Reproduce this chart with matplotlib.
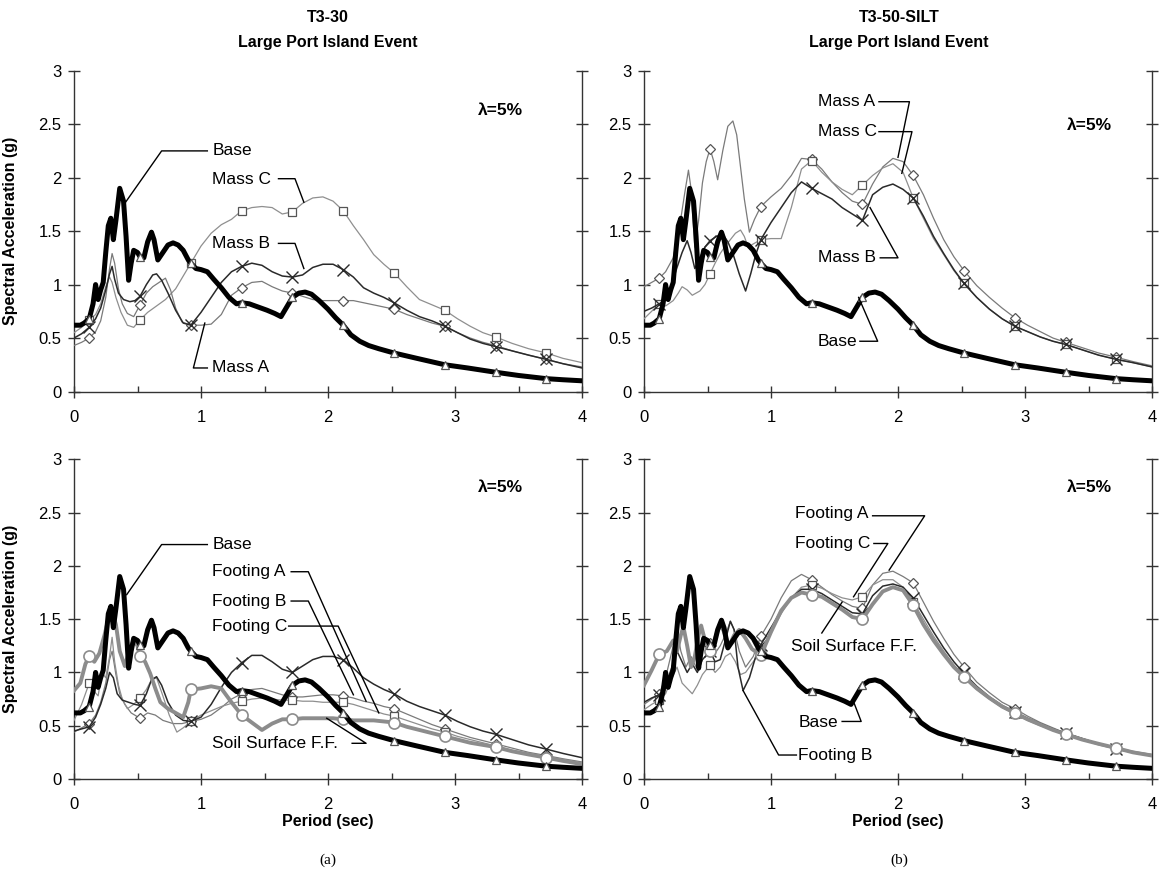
import numpy as np
import matplotlib
matplotlib.use('Agg')
import matplotlib.pyplot as plt
from matplotlib.ticker import MultipleLocator

plt.rcParams['font.family'] = ['Liberation Sans', 'DejaVu Sans']

# marker periods (every 0.4 s)
marker_x = [0.12, 0.52, 0.92, 1.32, 1.72, 2.12, 2.52, 2.92, 3.32, 3.72]

# Base motion (same in all panels)
base_x = [0.00, 0.05, 0.08, 0.12, 0.15, 0.17, 0.19, 0.21, 0.23, 0.25, 0.27, 0.29, 0.31, 0.33,
          0.36, 0.39, 0.41, 0.43, 0.45, 0.47, 0.50, 0.52, 0.55, 0.58, 0.61, 0.63, 0.66, 0.70,
          0.74, 0.78, 0.82, 0.86, 0.90, 0.92, 0.96, 1.00, 1.05, 1.10, 1.16, 1.22, 1.28, 1.32,
          1.38, 1.45, 1.52, 1.58, 1.63, 1.68, 1.72, 1.77, 1.82, 1.87, 1.93, 2.00, 2.06, 2.12,
          2.18, 2.25, 2.32, 2.40, 2.52, 2.70, 2.92, 3.10, 3.32, 3.50, 3.72, 3.85, 4.00]
base_y = [0.62, 0.62, 0.64, 0.68, 0.82, 1.00, 0.86, 0.95, 1.02, 1.30, 1.55, 1.62, 1.42, 1.60,
          1.90, 1.78, 1.45, 1.04, 1.20, 1.32, 1.30, 1.26, 1.25, 1.40, 1.49, 1.42, 1.23, 1.30,
          1.37, 1.39, 1.37, 1.32, 1.23, 1.20, 1.15, 1.14, 1.12, 1.05, 0.97, 0.88, 0.82, 0.83,
          0.82, 0.79, 0.76, 0.73, 0.70, 0.80, 0.88, 0.92, 0.93, 0.91, 0.85, 0.77, 0.69, 0.62,
          0.53, 0.47, 0.43, 0.40, 0.36, 0.31, 0.25, 0.22, 0.18, 0.15, 0.12, 0.11, 0.10]

# common grid for the long-period tails
tail_x = [1.00, 1.08, 1.16, 1.24, 1.32, 1.40, 1.48, 1.56, 1.64, 1.72, 1.80, 1.88, 1.96, 2.04,
          2.12, 2.20, 2.28, 2.36, 2.44, 2.52, 2.62, 2.72, 2.82, 2.92, 3.02, 3.12, 3.22, 3.32,
          3.45, 3.58, 3.72, 3.85, 4.00]

# ---- T3-30, masses ----
a_massC_x = [0.00, 0.06, 0.12, 0.17, 0.21, 0.25, 0.28, 0.30, 0.33, 0.37, 0.42, 0.47, 0.52, 0.58,
             0.65, 0.72, 0.80, 0.86, 0.92] + tail_x
a_massC_y = [0.55, 0.60, 0.67, 0.72, 0.82, 0.98, 1.07, 1.02, 0.88, 0.74, 0.62, 0.60, 0.67, 0.74,
             0.80, 0.86, 0.96, 1.08, 1.20,
             1.36, 1.48, 1.56, 1.61, 1.69, 1.72, 1.73, 1.72, 1.66, 1.68, 1.76, 1.81, 1.82, 1.78,
             1.69, 1.55, 1.42, 1.28, 1.19, 1.11, 0.98, 0.86, 0.81, 0.76, 0.68, 0.61, 0.55, 0.51,
             0.45, 0.40, 0.36, 0.31, 0.27]
a_massB_x = [0.00, 0.06, 0.12, 0.17, 0.21, 0.25, 0.28, 0.30, 0.32, 0.35, 0.39, 0.44, 0.48, 0.52,
             0.57, 0.62, 0.65, 0.69, 0.74, 0.80, 0.86, 0.92] + tail_x
a_massB_y = [0.50, 0.54, 0.60, 0.68, 0.78, 0.95, 1.10, 1.17, 1.05, 0.92, 0.86, 0.84, 0.85, 0.89,
             1.00, 1.09, 1.10, 1.04, 0.92, 0.76, 0.64, 0.62,
             0.74, 0.88, 1.02, 1.12, 1.17, 1.20, 1.18, 1.12, 1.08, 1.07, 1.09, 1.16, 1.19, 1.19,
             1.14, 1.07, 0.97, 0.92, 0.88, 0.83, 0.76, 0.70, 0.66, 0.61, 0.55, 0.49, 0.45, 0.42,
             0.38, 0.34, 0.30, 0.26, 0.22]
a_massA_x = [0.00, 0.06, 0.12, 0.17, 0.21, 0.25, 0.28, 0.30, 0.32, 0.35, 0.38, 0.42, 0.47, 0.52,
             0.57, 0.62, 0.67, 0.72, 0.76, 0.80, 0.85, 0.92] + tail_x
a_massA_y = [0.43, 0.46, 0.50, 0.56, 0.66, 0.88, 1.15, 1.29, 1.20, 0.96, 0.82, 0.73, 0.70, 0.81,
             0.92, 0.98, 1.02, 1.06, 0.95, 0.78, 0.65, 0.62,
             0.62, 0.63, 0.72, 0.90, 0.97, 1.02, 1.03, 0.98, 0.94, 0.92, 0.89, 0.86, 0.85, 0.85,
             0.85, 0.85, 0.83, 0.81, 0.79, 0.77, 0.72, 0.68, 0.64, 0.61, 0.55, 0.50, 0.46, 0.43,
             0.38, 0.34, 0.30, 0.26, 0.23]

# ---- T3-50-SILT, masses ----
b_massA_x = [0.00, 0.06, 0.12, 0.17, 0.23, 0.28, 0.32, 0.35, 0.37, 0.40, 0.43, 0.46, 0.49, 0.52,
             0.55, 0.58, 0.62, 0.66, 0.70, 0.73, 0.76, 0.79, 0.83, 0.87, 0.92] + tail_x
b_massA_y = [0.98, 1.02, 1.06, 1.12, 1.25, 1.54, 1.85, 2.07, 1.90, 1.35, 1.60, 1.95, 2.15, 2.27,
             2.15, 1.98, 2.25, 2.48, 2.53, 2.40, 2.10, 1.80, 1.49, 1.61, 1.73,
             1.82, 1.90, 2.02, 2.18, 2.17, 2.08, 1.96, 1.86, 1.78, 1.75, 1.94, 2.10, 2.18, 2.15,
             2.02, 1.84, 1.62, 1.42, 1.26, 1.13, 0.99, 0.88, 0.78, 0.69, 0.62, 0.56, 0.50, 0.46,
             0.41, 0.36, 0.32, 0.28, 0.24]
b_massC_x = [0.00, 0.06, 0.12, 0.17, 0.23, 0.27, 0.30, 0.34, 0.38, 0.44, 0.48, 0.52, 0.56, 0.60,
             0.64, 0.68, 0.72, 0.76, 0.79, 0.82, 0.86, 0.92] + tail_x
b_massC_y = [0.68, 0.75, 0.82, 0.80, 0.85, 0.92, 0.98, 0.95, 0.90, 0.94, 1.00, 1.10, 1.20, 1.29,
             1.36, 1.42, 1.48, 1.51, 1.45, 1.35, 1.38, 1.42,
             1.43, 1.43, 1.72, 2.08, 2.16, 2.05, 1.96, 1.89, 1.84, 1.93, 2.02, 2.09, 2.13, 2.05,
             1.81, 1.62, 1.43, 1.28, 1.13, 1.01, 0.88, 0.77, 0.68, 0.61, 0.56, 0.51, 0.47, 0.44,
             0.39, 0.34, 0.30, 0.27, 0.23]
b_massB_x = [0.00, 0.06, 0.12, 0.17, 0.20, 0.23, 0.26, 0.30, 0.34, 0.37, 0.40, 0.44, 0.48, 0.52,
             0.57, 0.62, 0.66, 0.70, 0.75, 0.80, 0.84, 0.88, 0.92] + tail_x
b_massB_y = [0.75, 0.78, 0.82, 0.86, 0.91, 1.05, 1.16, 1.30, 1.41, 1.30, 1.15, 1.25, 1.35, 1.41,
             1.45, 1.47, 1.40, 1.29, 1.10, 0.94, 1.10, 1.28, 1.42,
             1.58, 1.72, 1.86, 1.96, 1.90, 1.85, 1.80, 1.72, 1.66, 1.60, 1.84, 1.91, 1.94, 1.89,
             1.81, 1.64, 1.45, 1.29, 1.14, 1.01, 0.88, 0.77, 0.68, 0.61, 0.56, 0.51, 0.47, 0.44,
             0.39, 0.34, 0.30, 0.27, 0.23]

# ---- T3-30, footings ----
a_soil_x = [0.00, 0.05, 0.09, 0.12, 0.16, 0.20, 0.24, 0.27, 0.30, 0.33, 0.36, 0.40, 0.44, 0.47,
            0.50, 0.52, 0.56, 0.60, 0.64, 0.68, 0.74, 0.80, 0.86, 0.90, 0.92] + tail_x
a_soil_y = [0.83, 0.90, 1.08, 1.15, 1.10, 1.18, 1.35, 1.50, 1.57, 1.45, 1.20, 1.06, 1.22, 1.30,
            1.25, 1.15, 1.10, 0.99, 0.85, 0.72, 0.66, 0.62, 0.58, 0.72, 0.84,
            0.85, 0.87, 0.85, 0.72, 0.60, 0.53, 0.46, 0.52, 0.56, 0.56, 0.57, 0.57, 0.57, 0.57,
            0.56, 0.55, 0.55, 0.55, 0.54, 0.53, 0.49, 0.46, 0.43, 0.40, 0.37, 0.34, 0.32, 0.30,
            0.26, 0.23, 0.20, 0.17, 0.14]
a_footB_x = [0.00, 0.06, 0.12, 0.17, 0.21, 0.25, 0.28, 0.31, 0.34, 0.38, 0.43, 0.48, 0.52, 0.57,
             0.61, 0.65, 0.69, 0.74, 0.80, 0.86, 0.92] + tail_x
a_footB_y = [0.45, 0.47, 0.49, 0.58, 0.70, 0.85, 1.00, 0.95, 0.80, 0.74, 0.72, 0.70, 0.69, 0.80,
             0.93, 0.96, 0.88, 0.72, 0.60, 0.55, 0.54,
             0.58, 0.70, 0.86, 1.00, 1.09, 1.16, 1.16, 1.10, 1.03, 1.00, 1.06, 1.12, 1.15, 1.15,
             1.12, 1.04, 0.95, 0.89, 0.84, 0.80, 0.73, 0.68, 0.64, 0.60, 0.54, 0.49, 0.45, 0.42,
             0.37, 0.32, 0.28, 0.24, 0.20]
a_footA_x = [0.00, 0.06, 0.12, 0.17, 0.21, 0.25, 0.28, 0.30, 0.33, 0.36, 0.40, 0.45, 0.52, 0.58,
             0.64, 0.70, 0.78, 0.85, 0.92] + tail_x
a_footA_y = [0.44, 0.48, 0.52, 0.60, 0.72, 0.90, 1.12, 1.20, 0.98, 0.80, 0.70, 0.62, 0.57, 0.62,
             0.60, 0.55, 0.52, 0.52, 0.54,
             0.56, 0.60, 0.67, 0.75, 0.80, 0.84, 0.85, 0.82, 0.79, 0.77, 0.77, 0.78, 0.79, 0.79,
             0.78, 0.76, 0.73, 0.71, 0.68, 0.66, 0.61, 0.56, 0.51, 0.47, 0.43, 0.39, 0.36, 0.33,
             0.29, 0.25, 0.22, 0.19, 0.16]
a_footC_x = [0.00, 0.06, 0.12, 0.16, 0.19, 0.22, 0.25, 0.28, 0.30, 0.32, 0.35, 0.38, 0.42, 0.47,
             0.52, 0.57, 0.61, 0.65, 0.70, 0.75, 0.81, 0.86, 0.92] + tail_x
a_footC_y = [0.55, 0.70, 0.90, 0.82, 0.78, 1.00, 0.95, 1.15, 1.33, 1.10, 0.88, 0.75, 0.66, 0.70,
             0.76, 0.84, 0.93, 0.95, 0.78, 0.60, 0.44, 0.48, 0.54,
             0.60, 0.64, 0.68, 0.71, 0.73, 0.75, 0.76, 0.75, 0.74, 0.74, 0.73, 0.73, 0.72, 0.72,
             0.72, 0.70, 0.67, 0.64, 0.61, 0.59, 0.55, 0.51, 0.47, 0.44, 0.40, 0.37, 0.34, 0.31,
             0.27, 0.24, 0.21, 0.18, 0.15]

# ---- T3-50-SILT, footings ----
b_soil_x = [0.00, 0.06, 0.10, 0.12, 0.18, 0.23, 0.26, 0.29, 0.31, 0.34, 0.37, 0.40, 0.43, 0.45,
            0.48, 0.52, 0.56, 0.60, 0.63, 0.67, 0.71, 0.75, 0.80, 0.85, 0.92] + tail_x
b_soil_y = [0.88, 1.02, 1.12, 1.17, 1.20, 1.30, 1.20, 1.35, 1.43, 1.25, 1.05, 1.15, 1.35, 1.44,
            1.30, 1.20, 1.32, 1.46, 1.38, 1.25, 1.35, 1.40, 1.32, 1.22, 1.16,
            1.38, 1.58, 1.70, 1.75, 1.73, 1.71, 1.65, 1.59, 1.52, 1.50, 1.64, 1.76, 1.80, 1.77,
            1.63, 1.45, 1.30, 1.17, 1.05, 0.96, 0.85, 0.76, 0.68, 0.62, 0.56, 0.51, 0.46, 0.42,
            0.37, 0.33, 0.29, 0.25, 0.22]
b_footA_x = [0.00, 0.06, 0.12, 0.17, 0.22, 0.26, 0.29, 0.33, 0.37, 0.41, 0.45, 0.49, 0.52, 0.56,
             0.60, 0.64, 0.68, 0.71, 0.75, 0.80, 0.86, 0.92] + tail_x
b_footA_y = [0.70, 0.75, 0.80, 0.95, 1.20, 1.40, 1.20, 1.05, 1.15, 1.05, 1.20, 1.32, 1.28, 1.18,
             1.25, 1.35, 1.48, 1.40, 1.20, 1.05, 1.15, 1.34,
             1.50, 1.70, 1.86, 1.92, 1.87, 1.80, 1.73, 1.67, 1.62, 1.60, 1.82, 1.93, 1.95, 1.90,
             1.84, 1.66, 1.48, 1.32, 1.17, 1.05, 0.91, 0.81, 0.72, 0.66, 0.59, 0.53, 0.48, 0.43,
             0.38, 0.33, 0.29, 0.26, 0.23]
b_footB_x = [0.00, 0.06, 0.12, 0.17, 0.22, 0.26, 0.30, 0.34, 0.38, 0.42, 0.46, 0.52, 0.56, 0.60,
             0.64, 0.68, 0.71, 0.74, 0.78, 0.83, 0.88, 0.92] + tail_x
b_footB_y = [0.72, 0.76, 0.79, 0.88, 1.05, 1.20, 1.10, 1.00, 1.08, 1.00, 1.12, 1.20, 1.10, 1.12,
             1.30, 1.48, 1.40, 1.05, 0.83, 0.95, 1.15, 1.26,
             1.42, 1.58, 1.70, 1.78, 1.78, 1.74, 1.68, 1.62, 1.56, 1.55, 1.72, 1.81, 1.83, 1.80,
             1.70, 1.54, 1.38, 1.23, 1.10, 0.99, 0.87, 0.77, 0.69, 0.63, 0.57, 0.52, 0.47, 0.43,
             0.38, 0.33, 0.28, 0.25, 0.22]
b_footC_x = [0.00, 0.06, 0.12, 0.17, 0.22, 0.26, 0.30, 0.34, 0.38, 0.42, 0.46, 0.52, 0.56, 0.60,
             0.64, 0.68, 0.72, 0.76, 0.80, 0.86, 0.92] + tail_x
b_footC_y = [0.65, 0.70, 0.74, 0.80, 0.95, 1.05, 0.90, 0.85, 0.80, 0.88, 0.98, 1.07, 1.00, 1.05,
             1.15, 1.18, 1.10, 0.98, 1.00, 1.10, 1.20,
             1.38, 1.55, 1.70, 1.80, 1.82, 1.79, 1.74, 1.70, 1.68, 1.71, 1.82, 1.87, 1.87, 1.80,
             1.66, 1.50, 1.34, 1.20, 1.07, 0.96, 0.84, 0.75, 0.67, 0.61, 0.55, 0.50, 0.46, 0.42,
             0.37, 0.32, 0.28, 0.25, 0.22]

# line styles
st_base = dict(color='black', lw=3.6, marker='^', ms=6, mfc='white', mec='#555555', mew=0.9, zorder=5)
st_A = dict(color='#7a7a7a', lw=0.9, marker='D', ms=5, mfc='white', mec='#555555', mew=0.9, zorder=3)
st_B = dict(color='#2a2a2a', lw=1.1, marker='x', ms=8, mec='#2a2a2a', mew=1.0, zorder=4)
st_C = dict(color='#8f8f8f', lw=0.9, marker='s', ms=6, mfc='white', mec='#555555', mew=0.9, zorder=3)
st_soil = dict(color='#8c8c8c', lw=2.8, marker='o', ms=8, mfc='white', mec='#8c8c8c', mew=1.2, zorder=4)


def curve(ax, x, y, st):
    x = np.asarray(x)
    idx = [i for i, v in enumerate(x) if np.any(np.isclose(v, marker_x))]
    ax.plot(x, y, markevery=idx, **st)


def leader(ax, text, tx, ty, pts, fs=12.5):
    ax.text(tx, ty, text, fontsize=fs, ha='left', va='center', zorder=10)
    px, py = zip(*pts)
    ax.plot(px, py, color='black', lw=1.0, zorder=9)


def setup(ax, xlabel, ylabel):
    ax.set_xlim(0, 4)
    ax.set_ylim(0, 3)
    ax.spines['top'].set_visible(False)
    for s in ['left', 'bottom', 'right']:
        ax.spines[s].set_color('#333333')
        ax.spines[s].set_linewidth(1.0)
    ax.xaxis.set_major_locator(MultipleLocator(1))
    ax.xaxis.set_minor_locator(MultipleLocator(0.5))
    ax.yaxis.set_major_locator(MultipleLocator(0.5))
    ax.yaxis.set_major_formatter(plt.FuncFormatter(lambda v, p: ('%g' % v)))
    ax.tick_params(axis='both', which='major', direction='inout', length=8, width=1.0,
                   labelsize=12, color='#333333', right=True, top=False)
    ax.tick_params(axis='x', which='major', pad=9)
    ax.tick_params(axis='y', which='major', pad=5)
    ax.tick_params(axis='x', which='minor', direction='in', length=4, width=1.0, color='#333333')
    if ylabel:
        ax.set_ylabel('Spectral Acceleration (g)', fontsize=11.5, fontweight='bold')
        ax.yaxis.set_label_coords(-0.110, 0.5)
    if xlabel:
        ax.set_xlabel('Period (sec)', fontsize=11.5, fontweight='bold')
        ax.xaxis.set_label_coords(0.5, -0.11)


fig = plt.figure(figsize=(11.59, 8.81), dpi=100)
W, H = 1159, 881
lx, rx, aw = 74 / W, 644 / W, 508 / W
ax_tl = fig.add_axes([lx, 1 - 391.5 / H, aw, 320.8 / H])
ax_tr = fig.add_axes([rx, 1 - 391.5 / H, aw, 320.8 / H])
ax_bl = fig.add_axes([lx, 1 - 779 / H, aw, 319.7 / H])
ax_br = fig.add_axes([rx, 1 - 779 / H, aw, 319.7 / H])

setup(ax_tl, False, True)
setup(ax_tr, False, False)
setup(ax_bl, True, True)
setup(ax_br, True, False)

# top-left: T3-30 masses
curve(ax_tl, a_massC_x, a_massC_y, st_C)
curve(ax_tl, a_massA_x, a_massA_y, st_A)
curve(ax_tl, a_massB_x, a_massB_y, st_B)
curve(ax_tl, base_x, base_y, st_base)
leader(ax_tl, 'Base', 1.09, 2.25, [(1.05, 2.25), (0.69, 2.25), (0.40, 1.76)])
leader(ax_tl, 'Mass C', 1.09, 1.98, [(1.61, 1.99), (1.74, 1.99), (1.81, 1.77)])
leader(ax_tl, 'Mass B', 1.09, 1.385, [(1.61, 1.385), (1.74, 1.385), (1.81, 1.15)])
leader(ax_tl, 'Mass A', 1.09, 0.22, [(1.05, 0.22), (0.94, 0.22), (1.03, 0.64)])
ax_tl.text(3.36, 2.63, '\u03bb=5%', fontsize=12.5, fontweight='bold', ha='center', va='center')

# top-right: T3-50-SILT masses
curve(ax_tr, b_massA_x, b_massA_y, st_A)
curve(ax_tr, b_massC_x, b_massC_y, st_C)
curve(ax_tr, b_massB_x, b_massB_y, st_B)
curve(ax_tr, base_x, base_y, st_base)
leader(ax_tr, 'Mass A', 1.37, 2.71, [(1.85, 2.71), (2.09, 2.71), (2.00, 2.19)])
leader(ax_tr, 'Mass C', 1.37, 2.43, [(1.85, 2.43), (2.11, 2.43), (2.03, 2.04)])
leader(ax_tr, 'Mass B', 1.37, 1.25, [(1.86, 1.25), (2.00, 1.25), (1.78, 1.72)])
leader(ax_tr, 'Base', 1.37, 0.47, [(1.70, 0.47), (1.84, 0.47), (1.69, 0.88)])
ax_tr.text(3.51, 2.49, '\u03bb=5%', fontsize=12.5, fontweight='bold', ha='center', va='center')

# bottom-left: T3-30 footings
curve(ax_bl, a_footA_x, a_footA_y, st_A)
curve(ax_bl, a_footC_x, a_footC_y, st_C)
curve(ax_bl, a_footB_x, a_footB_y, st_B)
curve(ax_bl, a_soil_x, a_soil_y, st_soil)
curve(ax_bl, base_x, base_y, st_base)
leader(ax_bl, 'Base', 1.09, 2.20, [(1.05, 2.20), (0.69, 2.20), (0.415, 1.73)])
leader(ax_bl, 'Footing A', 1.09, 1.945, [(1.71, 1.945), (1.845, 1.945), (2.30, 0.73)])
leader(ax_bl, 'Footing B', 1.09, 1.67, [(1.71, 1.67), (1.845, 1.67), (2.20, 0.79)])
leader(ax_bl, 'Footing C', 1.09, 1.435, [(1.69, 1.435), (2.08, 1.435), (2.40, 0.62)])
leader(ax_bl, 'Soil Surface F.F.', 1.09, 0.335, [(2.19, 0.335), (2.30, 0.335), (1.99, 0.57)])
ax_bl.text(3.36, 2.74, '\u03bb=5%', fontsize=12.5, fontweight='bold', ha='center', va='center')

# bottom-right: T3-50-SILT footings
curve(ax_br, b_footA_x, b_footA_y, st_A)
curve(ax_br, b_footC_x, b_footC_y, st_C)
curve(ax_br, b_footB_x, b_footB_y, st_B)
curve(ax_br, b_soil_x, b_soil_y, st_soil)
curve(ax_br, base_x, base_y, st_base)
leader(ax_br, 'Footing A', 1.19, 2.49, [(1.80, 2.47), (2.21, 2.47), (1.93, 1.96)])
leader(ax_br, 'Footing C', 1.19, 2.21, [(1.81, 2.21), (1.92, 2.21), (1.65, 1.71)])
leader(ax_br, 'Soil Surface F.F.', 1.16, 1.24, [(1.40, 1.37), (1.56, 1.66)])
leader(ax_br, 'Base', 1.215, 0.53, [(1.56, 0.54), (1.71, 0.54), (1.65, 0.725)])
leader(ax_br, 'Footing B', 1.215, 0.225, [(1.20, 0.225), (1.06, 0.225), (0.78, 0.83)])
ax_br.text(3.51, 2.74, '\u03bb=5%', fontsize=12.5, fontweight='bold', ha='center', va='center')

# column titles
for cx, name in [(328 / W, 'T3-30'), (899 / W, 'T3-50-SILT')]:
    fig.text(cx, 1 - 18 / H, name, ha='center', va='center', fontsize=11.5, fontweight='bold')
    fig.text(cx, 1 - 42 / H, 'Large Port Island Event', ha='center', va='center',
             fontsize=11.5, fontweight='bold')

fig.text(328 / W, 1 - 860 / H, '(a)', ha='center', va='center', fontsize=11,
         family=['Liberation Serif', 'DejaVu Serif'])
fig.text(899 / W, 1 - 860 / H, '(b)', ha='center', va='center', fontsize=11,
         family=['Liberation Serif', 'DejaVu Serif'])

fig.savefig('out.png', dpi=100, facecolor='white')
